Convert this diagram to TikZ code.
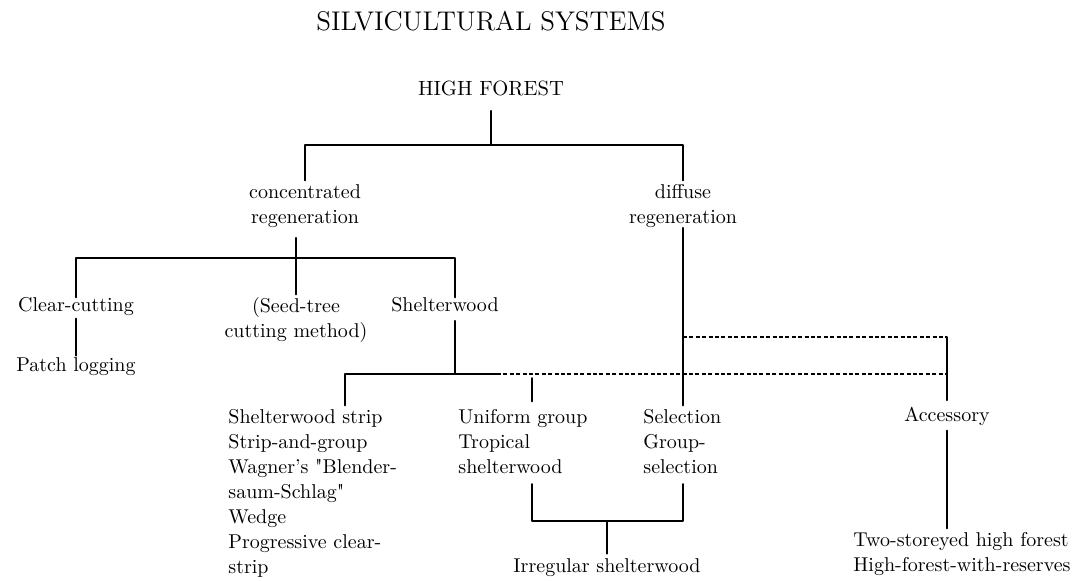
\documentclass[tikz,border=0pt]{standalone}
\usepackage{tikz}
\usetikzlibrary{arrows.meta}
\tikzset{
  every picture/.style={line join=round, >=Stealth},
  lbl/.style={inner sep=0pt, anchor=base, font=\fontsize{10}{12.5}\selectfont},
  lst/.style={inner sep=0pt, anchor=north, font=\fontsize{10}{12.5}\selectfont},
  ln/.style={line width=0.9pt, line cap=round},
  dsh/.style={line width=0.8pt, line cap=butt, dash pattern=on 2pt off 1.2pt},
}

\begin{document}
\begin{tikzpicture}[x=0.5pt,y=-0.5pt]
\useasboundingbox (0,0) rectangle (1081,581);
\node[lbl,font=\fontsize{13.5}{15}\selectfont] (title) at (491,31) {SILVICULTURAL SYSTEMS};
\node[lbl,font=\fontsize{10.3}{12.5}\selectfont] (hf) at (491,96) {HIGH FOREST};
\node[lst,align=center] (conc) at (305,180.5) {\strut concentrated\\regeneration};
\node[lst,align=center] (diff) at (683,180.5) {\strut diffuse\\regeneration};
\node[lbl] (clear) at (76,312) {Clear-cutting};
\node[lst,align=center] (seed) at (296,294.5) {\strut(Seed-tree\\cutting method)};
\node[lbl] (shelt) at (445,312) {Shelterwood};
\node[lbl] (patch) at (76,372) {Patch logging};
\node[lst,align=left,anchor=north west] (strip) at (228,405.5) {\strut Shelterwood strip\\Strip-and-group\\Wagner's \textquotedbl Blender-\\saum-Schlag\textquotedbl\\Wedge\\Progressive clear-\\strip};
\node[lst,align=left,anchor=north west] (unif) at (458,405.5) {\strut Uniform group\\Tropical\\shelterwood};
\node[lst,align=left,anchor=north west] (sel) at (643,405.5) {\strut Selection\\Group-\\selection};
\node[lbl] (acc) at (947,422) {Accessory};
\node[lst,align=left] (two) at (962,528.5) {\strut Two-storeyed high forest\\High-forest-with-reserves};
\node[lbl] (irr) at (607,573) {Irregular shelterwood};

\coordinate (j0) at (491,145);
\coordinate (cj) at (296,258);
\coordinate (sj) at (455,258);
\coordinate (bl) at (345,374);
\coordinate (bd) at (497,374);
\coordinate (br) at (947,374);
\coordinate (ut) at (532,374);
\coordinate (uj) at (683,337);
\coordinate (ua) at (947,337);
\coordinate (bk) at (607,521);

\draw[ln,shorten <=7pt] (hf.south) -- (j0);
\draw[ln] (conc.north) -- (conc.north |- j0) -- (diff.north |- j0) -- (diff.north);
\draw[ln,shorten <=5pt] (conc.south -| cj) -- (cj);
\draw[ln] (clear.north) |- (sj) -- (sj |- shelt.north);
\draw[ln] (seed.north) -- (seed.north |- cj);
\draw[ln,shorten <=1pt,shorten >=1pt] (clear.south) -- (patch.north);
\draw[ln,shorten <=4pt] (sj |- shelt.south) -- (sj |- bl);
\draw[ln] (bl |- strip.north) -- (bl) -- (bd);
\draw[dsh] (bd) -- (br);
\draw[ln,shorten <=2pt,shorten >=2pt] (ut |- unif.north) -- (ut);
\draw[ln] (diff.south -| uj) -- (uj |- sel.north);
\draw[dsh] (uj) -- (ua);
\draw[ln,shorten >=3.5pt] (ua) -- (br |- acc.north);
\draw[ln,shorten <=2pt] (acc.south) -- (acc.south |- two.north);
\draw[ln,shorten <=5pt,shorten >=5pt] (ut |- unif.south) |- (bk) -| (uj |- sel.south);
\draw[ln,shorten >=2.5pt] (bk) -- (irr.north);
\end{tikzpicture}
\end{document}
